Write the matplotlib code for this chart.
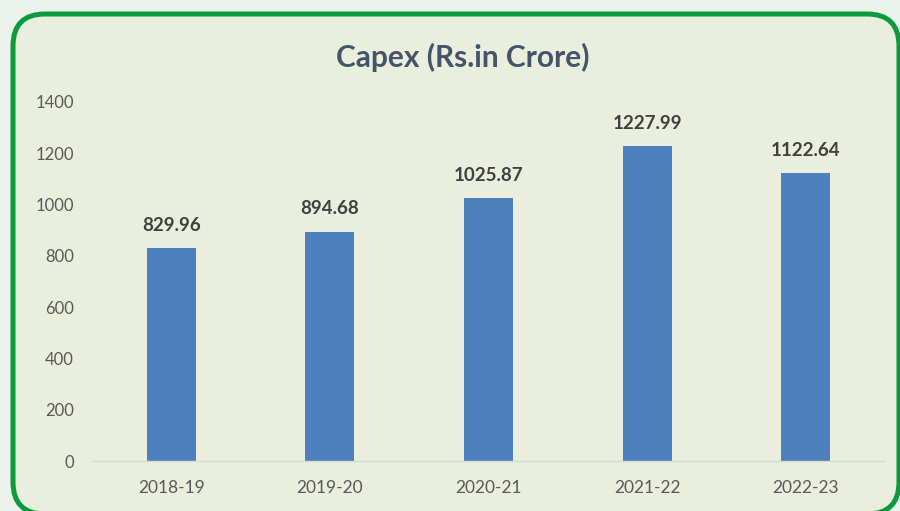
import matplotlib.pyplot as plt
from matplotlib.patches import FancyBboxPatch

years = ["2018-19", "2019-20", "2020-21", "2021-22", "2022-23"]
capex = [829.96, 894.68, 1025.87, 1227.99, 1122.64]

plt.rcParams['font.family'] = ['Lato', 'DejaVu Sans']

fig = plt.figure(figsize=(9, 5.11), dpi=100)
fig.patch.set_facecolor("#ecf2ec")

# rounded green frame, drawn in pixel coordinates
frame = FancyBboxPatch((13, -3), 886, 500,
                       boxstyle="round,pad=0,rounding_size=32",
                       transform=None, facecolor="#e9efdc",
                       edgecolor="#0b9a3d", linewidth=3.6, zorder=-1)
fig.patches.append(frame)

ax = fig.add_axes([92 / 900, 50 / 511, 793 / 900, 359 / 511])
ax.set_facecolor("none")

x = range(len(years))
ax.bar(x, capex, width=0.31, color="#4e7fbe", zorder=2)

# value labels above each bar
for i, v in enumerate(capex):
    ax.annotate("%.2f" % v, (i, v), xytext=(0, 16.5),
                textcoords="offset points", ha="center", va="center",
                fontsize=13.5, fontweight="bold", color="#404040")

ax.set_xlim(-0.5, len(years) - 0.5)
ax.set_ylim(0, 1400)
ax.set_yticks(range(0, 1401, 200))
ax.set_xticks(list(x))
ax.set_xticklabels(years)

for s in ["top", "right", "left"]:
    ax.spines[s].set_visible(False)
ax.spines["bottom"].set_color("#d6dccb")
ax.spines["bottom"].set_linewidth(1)
ax.tick_params(length=0, colors="#595959")
ax.tick_params(axis="x", pad=14, labelsize=12.5)
ax.tick_params(axis="y", pad=13, labelsize=12)

fig.text(463 / 900, 1 - 57 / 511, "Capex (Rs.in Crore)", ha="center",
         va="center", fontsize=21.5, fontweight="bold", color="#44546a")

fig.savefig("out.png", dpi=100, facecolor=fig.get_facecolor())
